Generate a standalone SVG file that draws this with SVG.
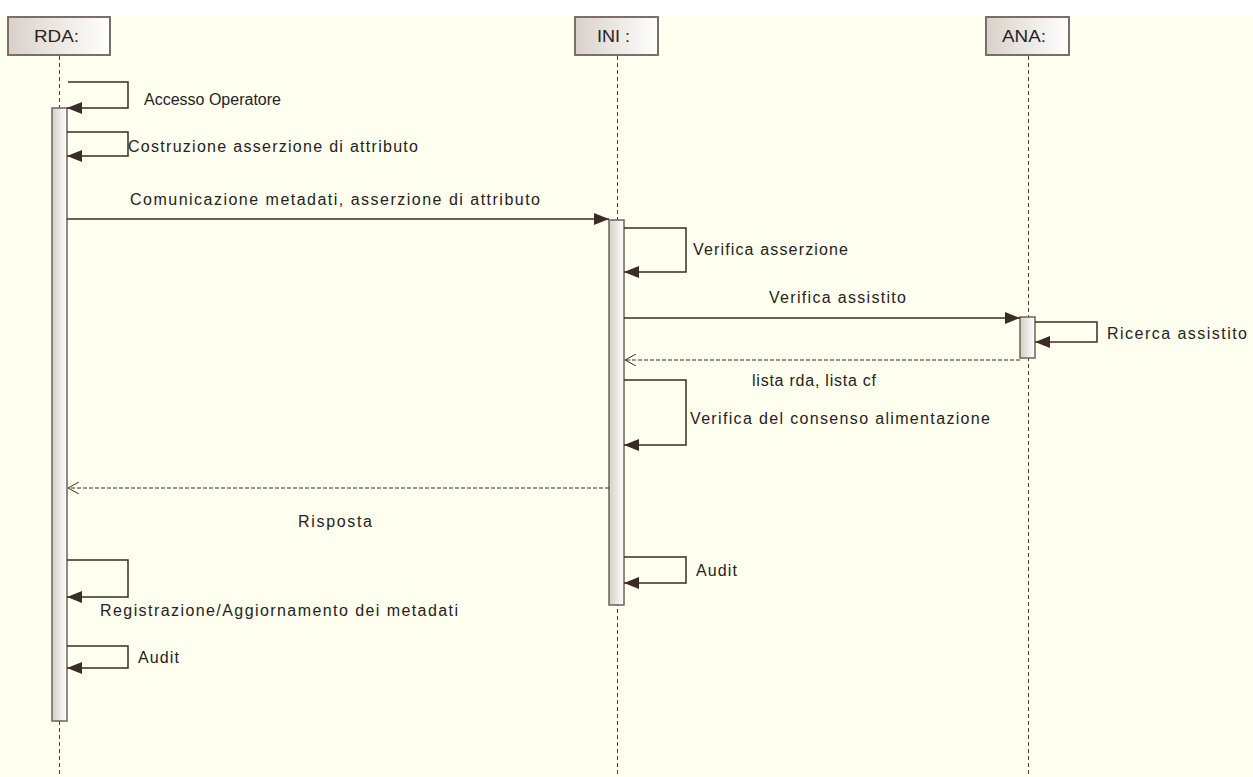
<svg xmlns="http://www.w3.org/2000/svg" width="1253" height="777" viewBox="0 0 1253 777">
<defs>
<linearGradient id="hdr" x1="0" y1="0" x2="1" y2="0">
<stop offset="0" stop-color="#d9d1c9"/>
<stop offset="1" stop-color="#ffffff"/>
</linearGradient>
<linearGradient id="act" x1="0" y1="0" x2="1" y2="0">
<stop offset="0" stop-color="#d6cec6"/>
<stop offset="1" stop-color="#ffffff"/>
</linearGradient>
<marker id="filled" viewBox="0 0 15 12" refX="15" refY="6" markerWidth="15" markerHeight="12" markerUnits="userSpaceOnUse" orient="auto">
<path d="M0,0 L15,6 L0,12 Z" fill="#3a2c26"/>
</marker>
<marker id="open" viewBox="0 0 12 12" refX="11" refY="6" markerWidth="12" markerHeight="12" markerUnits="userSpaceOnUse" orient="auto">
<path d="M0,0 L11,6 L0,12" fill="none" stroke="#3a2c26" stroke-width="1"/>
</marker>
</defs>
<style>
.hdr{fill:url(#hdr);stroke:#7a6e66;stroke-width:2}
.act{fill:url(#act);stroke:#6e625a;stroke-width:1.5}
.life{stroke:#4a3e38;stroke-width:1;stroke-dasharray:4,3;fill:none}
.msg{stroke:#3a2c26;stroke-width:1.5;fill:none;marker-end:url(#filled)}
.ret{stroke:#3a2c26;stroke-width:1;stroke-dasharray:4,2;fill:none;marker-end:url(#open)}
text{font-family:"Liberation Sans",Arial,sans-serif;font-size:16px;fill:#262220}
</style>
<rect x="0" y="0" width="1253" height="777" fill="#ffffff"/>
<rect x="0" y="16" width="1253" height="761" fill="#fffff0"/>

<g id="lifeline-RDA">
<line class="life" x1="59.5" y1="56" x2="59.5" y2="777"/>
<rect class="hdr" x="8" y="17" width="102" height="38"/>
<text x="34" y="42" textLength="45" lengthAdjust="spacingAndGlyphs">RDA:</text>
<rect class="act" x="52" y="108" width="15" height="613"/>
</g>
<g id="lifeline-INI">
<line class="life" x1="617.5" y1="56" x2="617.5" y2="777"/>
<rect class="hdr" x="575" y="17" width="83" height="38"/>
<text x="597" y="42" textLength="33" lengthAdjust="spacingAndGlyphs">INI :</text>
<rect class="act" x="609" y="220" width="15" height="385"/>
</g>
<g id="lifeline-ANA">
<line class="life" x1="1028.5" y1="56" x2="1028.5" y2="777"/>
<rect class="hdr" x="986" y="17" width="83" height="38"/>
<text x="1002" y="42" textLength="44" lengthAdjust="spacingAndGlyphs">ANA:</text>
<rect class="act" x="1020" y="317" width="15" height="41"/>
</g>

<g id="connectors">
<polyline class="msg" points="68,82 128,82 128,108 67,108"/>
<polyline class="msg" points="67,132 128,132 128,156 67,156"/>
<line class="msg" x1="67" y1="219" x2="609" y2="219"/>
<polyline class="msg" points="624,228 686,228 686,272 624,272"/>
<line class="msg" x1="624" y1="318" x2="1020" y2="318"/>
<polyline class="msg" points="1035,322 1097,322 1097,342 1035,342"/>
<line class="ret" x1="1020" y1="360" x2="625" y2="360"/>
<polyline class="msg" points="624,380 686,380 686,445 624,445"/>
<line class="ret" x1="609" y1="488" x2="68" y2="488"/>
<polyline class="msg" points="624,557 686,557 686,583 624,583"/>
<polyline class="msg" points="67,560 128,560 128,597 67,597"/>
<polyline class="msg" points="67,646 128,646 128,668 67,668"/>
</g>

<g id="labels">
<text x="144" y="105">Accesso Operatore</text>
<text x="128" y="152" textLength="290" lengthAdjust="spacing">Costruzione asserzione di attributo</text>
<text x="130" y="205" textLength="410" lengthAdjust="spacing">Comunicazione metadati, asserzione di attributo</text>
<text x="693" y="255" textLength="155" lengthAdjust="spacing">Verifica asserzione</text>
<text x="769" y="303" textLength="137" lengthAdjust="spacing">Verifica assistito</text>
<text x="1107" y="339" textLength="140" lengthAdjust="spacing">Ricerca assistito</text>
<text x="752" y="386" textLength="124" lengthAdjust="spacing">lista rda, lista cf</text>
<text x="690" y="424" textLength="300" lengthAdjust="spacing">Verifica del consenso alimentazione</text>
<text x="298" y="527" textLength="74" lengthAdjust="spacing">Risposta</text>
<text x="696" y="576" textLength="41" lengthAdjust="spacing">Audit</text>
<text x="100" y="616" textLength="358" lengthAdjust="spacing">Registrazione/Aggiornamento dei metadati</text>
<text x="138" y="663" textLength="41" lengthAdjust="spacing">Audit</text>
</g>
</svg>
